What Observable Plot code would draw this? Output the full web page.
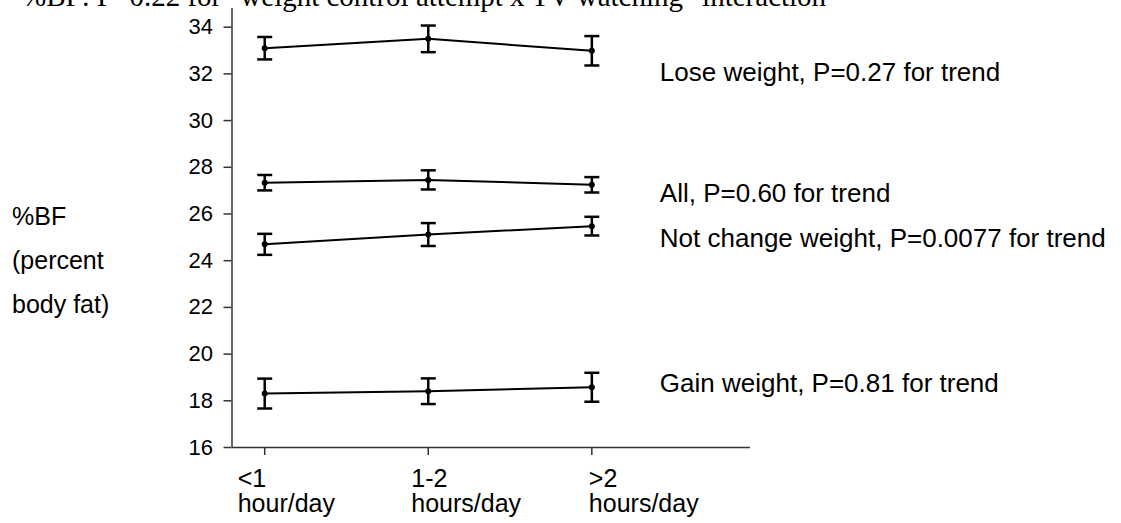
<!DOCTYPE html>
<html><head><meta charset="utf-8">
<script src="https://cdn.jsdelivr.net/npm/d3@7"></script>
<script src="https://cdn.jsdelivr.net/npm/@observablehq/plot@0.6"></script>
<style>
body{margin:0;background:#fff;}
#wrap{position:relative;width:1121px;height:523px;overflow:hidden;background:#fff;}
#title{position:absolute;left:22px;top:-18px;font-family:"Liberation Serif",serif;font-size:29px;white-space:nowrap;line-height:29px;color:#000;}
#ylab{position:absolute;left:12px;top:194px;font-family:"Liberation Sans",Arial,sans-serif;font-size:25px;line-height:44px;color:#000;}
#chart{position:absolute;left:0;top:0;}
</style>
</head><body>
<div id="wrap">
<div id="chart"></div>
<div id="title">%BF: P=0.22 for "weight control attempt x TV watching" interaction</div>
<div id="ylab">%BF<br>(percent<br>body fat)</div>
</div>
<script>
const categories = ["<1\nhour/day", "1-2\nhours/day", ">2\nhours/day"];
const catIndex = [1, 2, 3];

const seriesNames = ["Lose weight", "All", "Not change weight", "Gain weight"];
const loseMean = [33.10, 33.50, 32.99];
const loseErr  = [0.48, 0.57, 0.63];
const allMean  = [27.34, 27.46, 27.25];
const allErr   = [0.33, 0.41, 0.33];
const notMean  = [24.70, 25.12, 25.48];
const notErr   = [0.45, 0.49, 0.40];
const gainMean = [18.31, 18.41, 18.58];
const gainErr  = [0.64, 0.55, 0.62];

const labelTexts = ["Lose weight, P=0.27 for trend", "All, P=0.60 for trend",
                    "Not change weight, P=0.0077 for trend", "Gain weight, P=0.81 for trend"];
const labelY = [32.06, 26.87, 24.96, 18.75];

const yTicks = [16, 18, 20, 22, 24, 26, 28, 30, 32, 34];
const xDomain = [0.8, 3.97];
const yDomain = [16, 34.8];

const means = [loseMean, allMean, notMean, gainMean];
const errs = [loseErr, allErr, notErr, gainErr];
const rows = [];
seriesNames.forEach((s, i) => {
  catIndex.forEach((c, j) => {
    rows.push({series: s, x: c, y: means[i][j], lo: means[i][j] - errs[i][j], hi: means[i][j] + errs[i][j]});
  });
});
const labels = labelTexts.map((t, i) => ({text: t, x: catIndex[catIndex.length - 1], y: labelY[i]}));

const capSymbol = {
  draw(ctx, size) {
    const w = Math.sqrt(size / Math.PI);
    ctx.moveTo(-w, 0);
    ctx.lineTo(w, 0);
  }
};

// horizontal label offsets (style) for each category label
const xLabelDx = [-27, -17, -3];

const font = "Liberation Sans, Arial, sans-serif";
const chart = Plot.plot({
  width: 1121,
  height: 523,
  marginLeft: 231.5,
  marginRight: 371,
  marginTop: 8,
  marginBottom: 76,
  style: {fontFamily: font, background: "transparent", color: "#000"},
  x: {type: "linear", domain: xDomain},
  y: {domain: yDomain},
  marks: [
    Plot.axisY({ticks: yTicks, tickSize: 8, tickPadding: 11, fontSize: 22, label: null, stroke: "#333", strokeWidth: 1.5, fill: "#000"}),
    Plot.axisX({ticks: catIndex, tickFormat: () => "", tickSize: 8, label: null, stroke: "#333", strokeWidth: 1.5}),
    ...categories.map((c, i) => Plot.text([c], {
      x: catIndex[i], y: yDomain[0], text: (d) => d,
      textAnchor: "start", lineAnchor: "top", dx: xLabelDx[i], dy: 22,
      fontSize: 25, lineHeight: 1.0, fill: "#000"
    })),
    Plot.ruleX([xDomain[0]], {stroke: "#333", strokeWidth: 1.5}),
    Plot.ruleY([yDomain[0]], {stroke: "#333", strokeWidth: 1.5}),
    Plot.line(rows, {x: "x", y: "y", z: "series", stroke: "#000", strokeWidth: 2}),
    Plot.ruleX(rows, {x: "x", y1: "lo", y2: "hi", stroke: "#000", strokeWidth: 2.5}),
    Plot.dot(rows, {x: "x", y: "lo", symbol: capSymbol, r: 7.5, stroke: "#000", strokeWidth: 2.5}),
    Plot.dot(rows, {x: "x", y: "hi", symbol: capSymbol, r: 7.5, stroke: "#000", strokeWidth: 2.5}),
    Plot.dot(rows, {x: "x", y: "y", r: 3, fill: "#000"}),
    Plot.text(labels, {x: "x", y: "y", text: "text", textAnchor: "start", dx: 68, fontSize: 26, fill: "#000"})
  ]
});
document.getElementById("chart").appendChild(chart);
</script>
</body></html>
